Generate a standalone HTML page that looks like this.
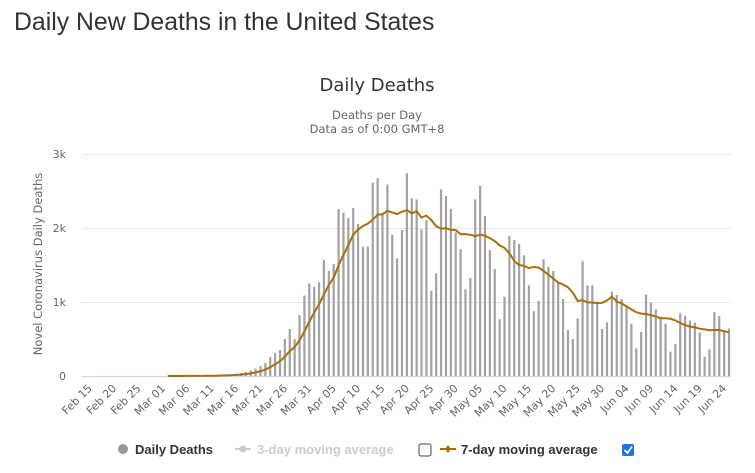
<!DOCTYPE html>
<html><head><meta charset="utf-8"><style>
html,body{margin:0;padding:0;background:#fff;width:755px;height:473px;overflow:hidden}
svg{display:block;font-family:"Liberation Sans","DejaVu Sans",sans-serif}
</style></head><body>
<svg id="s" width="755" height="473" xmlns="http://www.w3.org/2000/svg">
<text x="14" y="30" font-size="24.8" fill="#333">Daily New Deaths in the United States</text>
<text x="377" y="91" font-size="18" fill="#333" text-anchor="middle" font-family="DejaVu Sans, sans-serif">Daily Deaths</text>
<text x="377" y="119" font-size="11.5" fill="#666" text-anchor="middle" font-family="DejaVu Sans, sans-serif">Deaths per Day</text>
<text x="377" y="133" font-size="11.5" fill="#666" text-anchor="middle" font-family="DejaVu Sans, sans-serif">Data as of 0:00 GMT+8</text>
<g stroke="#e6e6e6" stroke-width="1">
<line x1="82" x2="731" y1="154.5" y2="154.5"/>
<line x1="82" x2="731" y1="228.5" y2="228.5"/>
<line x1="82" x2="731" y1="302.5" y2="302.5"/>
<line x1="82" x2="731" y1="376.5" y2="376.5" stroke="#ccd6eb"/>
</g>
<g font-size="11" fill="#666" text-anchor="end" font-family="DejaVu Sans, sans-serif">
<text x="66" y="158">3k</text><text x="66" y="232">2k</text><text x="66" y="306">1k</text><text x="66" y="380">0</text>
</g>
<text transform="translate(42,264) rotate(-90)" font-size="11.5" fill="#666" text-anchor="middle" font-family="DejaVu Sans, sans-serif">Novel Coronavirus Daily Deaths</text>
<g id="bars" fill="#a2a2a2"></g>
<polyline id="ln" fill="none" stroke="#a8700a" stroke-width="2"/>
<g id="lbl" font-size="11" fill="#666" text-anchor="end" font-family="DejaVu Sans, sans-serif"></g>
<g font-size="13" font-weight="bold" font-family="Liberation Sans, sans-serif">
<circle cx="123" cy="449" r="5" fill="#999"/>
<text x="135" y="454" fill="#333">Daily Deaths</text>
<line x1="235" x2="251" y1="449" y2="449" stroke="#ccc" stroke-width="2"/>
<circle cx="243" cy="449" r="3.5" fill="#ccc"/>
<text x="257" y="454" fill="#ccc">3-day moving average</text>
<rect x="419" y="444" width="12" height="12" rx="2" fill="#fff" stroke="#444"/>
<line x1="440" x2="456" y1="449" y2="449" stroke="#a8700a" stroke-width="2"/>
<path d="M448 445 L451 449 L448 453 L445 449Z" fill="#a8700a"/>
<text x="461" y="454" fill="#333">7-day moving average</text>
<rect x="622" y="444" width="12" height="12" rx="2" fill="#1a73e8"/>
<path d="M624.5 450 L627.5 453 L632 446.5" stroke="#fff" stroke-width="1.8" fill="none"/>
</g>
</svg>
<script>
var pre={15:0,16:1,17:0,18:1,19:2,20:1,21:2,22:3,23:4,24:5,25:8,26:10,27:12,28:15,29:22,30:30,31:40,32:55,33:75,34:100,35:135,36:175,37:257,38:310};
var vals=[351,500,635,500,824,1086,1252,1207,1266,1568,1419,1514,2257,2207,2135,2270,2054,1748,1748,2613,2676,2198,2586,1910,1590,1973,2739,2401,2387,1982,2108,1153,1387,2523,2432,2257,1941,1716,1171,1324,2387,2572,2162,1703,1446,766,1072,1892,1838,1784,1631,1225,874,1014,1577,1477,1419,1252,1041,622,500,779,1550,1225,1225,1005,635,725,1140,1095,1041,955,707,374,595,1099,991,901,802,707,329,432,847,811,748,721,586,261,360,865,811,622,640];
var data=[];for(var d=0;d<39;d++)data[d]=pre[d]||0;
for(var i=0;i<vals.length;i++)data[39+i]=vals[i];
var N=data.length;var step=(729-280)/(N-1-39);
function X(d){return 280+(d-39)*step}
function Y(v){return 376-v*0.074}
var b=document.getElementById('bars'),h='';
for(var d=0;d<N;d++){if(data[d]>0){var y=Y(data[d]);h+='<rect x="'+(X(d)-1.1).toFixed(2)+'" y="'+y.toFixed(1)+'" width="2.2" height="'+(376-y).toFixed(1)+'"/>';}}
b.innerHTML=h;
var pts=[];for(var d=16;d<N;d++){var s=0;for(var k=d-6;k<=d;k++){if(k>=0){s+=data[k];}}pts.push(X(d).toFixed(1)+','+Y(s/7).toFixed(1));}
document.getElementById('ln').setAttribute('points',pts.join(' '));
var m=["Feb 15","Feb 20","Feb 25","Mar 01","Mar 06","Mar 11","Mar 16","Mar 21","Mar 26","Mar 31","Apr 05","Apr 10","Apr 15","Apr 20","Apr 25","Apr 30","May 05","May 10","May 15","May 20","May 25","May 30","Jun 04","Jun 09","Jun 14","Jun 19","Jun 24"];
var l='';for(var i=0;i<m.length;i++){var x=X(i*5)+3;l+='<text transform="translate('+x.toFixed(1)+',389) rotate(-45)">'+m[i]+'</text>';}
document.getElementById('lbl').innerHTML=l;
</script>
</body></html>
